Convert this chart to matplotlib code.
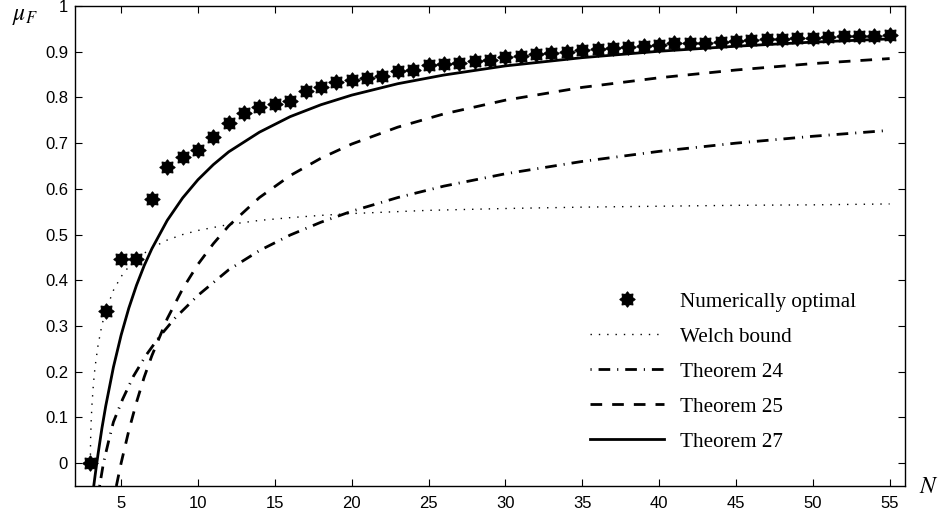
"""
Coherence of N lines in R^3: numerically optimal packings against
the Welch bound and the lower bounds of Theorems 24, 25 and 27.
"""

import numpy as np
import matplotlib
matplotlib.use("Agg")
import matplotlib.pyplot as plt
from matplotlib.path import Path

plt.rcParams["font.family"] = ["Liberation Sans", "DejaVu Sans"]
plt.rcParams["mathtext.fontset"] = "stix"

# Numerically optimal coherence, N = 3..55
n_opt = np.arange(3, 56)
mu_opt = [0.0, 0.333, 0.447, 0.447, 0.577, 0.647, 0.669, 0.685, 0.713, 0.743,
          0.766, 0.778, 0.785, 0.792, 0.814, 0.823, 0.834, 0.838, 0.843, 0.847,
          0.858, 0.861, 0.870, 0.873, 0.876, 0.880, 0.882, 0.888, 0.891, 0.895,
          0.898, 0.900, 0.903, 0.906, 0.909, 0.911, 0.913, 0.915, 0.918, 0.918,
          0.920, 0.922, 0.924, 0.925, 0.927, 0.927, 0.929, 0.931, 0.932, 0.934,
          0.935, 0.935, 0.937]

# Welch bound
n_welch = [3, 3.01, 3.02, 3.05, 3.1, 3.2, 3.3, 3.5, 3.75, 4, 4.5, 5, 5.5, 6,
           7, 8, 9, 10, 12, 14, 16, 18, 20, 25, 30, 35, 40, 45, 50, 55]
mu_welch = [0.0, 0.041, 0.057, 0.090, 0.126, 0.174, 0.209, 0.258, 0.302,
            0.333, 0.378, 0.408, 0.430, 0.447, 0.471, 0.488, 0.500, 0.509,
            0.522, 0.531, 0.537, 0.542, 0.546, 0.553, 0.557, 0.560, 0.562,
            0.564, 0.565, 0.567]

# Theorem 24
n_t24 = [3.6, 3.85, 4.2, 4.5, 5.1, 5.8, 6.6, 7.5, 8.5, 10, 12, 14, 16, 18,
         20, 23, 26, 30, 35, 40, 45, 50, 55]
mu_t24 = [-0.05, 0.0, 0.05, 0.09, 0.14, 0.19, 0.235, 0.277, 0.317, 0.367,
          0.423, 0.465, 0.499, 0.527, 0.551, 0.581, 0.606, 0.633, 0.660,
          0.682, 0.700, 0.715, 0.728]

# Theorem 25
n_t25 = [4.69, 5, 5.5, 6, 6.5, 7, 8, 9, 10, 11, 12, 14, 16, 18, 20, 23, 26,
         30, 35, 40, 45, 50, 55]
mu_t25 = [-0.05, 0.0, 0.071, 0.133, 0.188, 0.235, 0.316, 0.381, 0.435, 0.480,
          0.519, 0.581, 0.629, 0.667, 0.698, 0.735, 0.764, 0.794, 0.822,
          0.843, 0.860, 0.874, 0.885]

# Theorem 27
n_t27 = [3.2, 3.3, 3.4, 3.5, 3.75, 4, 4.5, 5, 5.5, 6, 6.5, 7, 8, 9, 10, 11,
         12, 14, 16, 18, 20, 23, 26, 30, 35, 40, 45, 50, 55]
mu_t27 = [-0.055, -0.029, -0.004, 0.020, 0.076, 0.125, 0.210, 0.280, 0.339,
          0.389, 0.432, 0.469, 0.531, 0.580, 0.620, 0.653, 0.681, 0.724,
          0.758, 0.784, 0.805, 0.830, 0.849, 0.869, 0.887, 0.901, 0.912,
          0.921, 0.928]

# heavy asterisk-like marker: 8 blunt spikes
star8 = Path.unit_regular_star(8, innerCircle=0.7)

fig = plt.figure(figsize=(9.41, 5.2), dpi=100)
ax = fig.add_axes([75 / 941, 1 - 486 / 520, 830 / 941, 480 / 520])

ax.plot(n_opt, mu_opt, linestyle="none", marker=star8, markersize=11,
        markeredgewidth=0.8, color="black", label="Numerically optimal")
ax.plot(n_welch, mu_welch, color="black", lw=1.0,
        linestyle=(0, (1.0, 5.0)), label="Welch bound")
ax.plot(n_t24, mu_t24, color="black", lw=2.0,
        linestyle=(0, (0.4, 2.5, 4.2, 2.5)), label="Theorem 24")
ax.plot(n_t25, mu_t25, color="black", lw=2.0,
        linestyle=(0, (4.2, 3.6)), label="Theorem 25")
ax.plot(n_t27, mu_t27, color="black", lw=2.0, label="Theorem 27")

ax.set_xlim(2, 56)
ax.set_ylim(-0.05, 1)
ax.set_xticks(range(5, 56, 5))
yt = np.round(np.arange(0, 1.01, 0.1), 1)
ax.set_yticks(yt)
ax.set_yticklabels(["0"] + [f"{v:.1f}" for v in yt[1:-1]] + ["1"])
ax.tick_params(direction="in", length=5, width=0.8, labelsize=12,
               top=True, right=True)
ax.tick_params(axis="x", pad=7)
ax.tick_params(axis="y", pad=5)
for sp in ax.spines.values():
    sp.set_linewidth(1.0)

fig.text(25 / 941, 1 - 16 / 520, r"$\mu_F$", fontsize=17,
         ha="center", va="center")
fig.text(929 / 941, 1 - 487 / 520, r"$N$", fontsize=17,
         ha="center", va="center")

ax.legend(loc="upper left", bbox_to_anchor=(590 / 941, 1 - 292 / 520),
          bbox_transform=fig.transFigure, frameon=False, borderpad=0,
          borderaxespad=0, handlelength=3.5, handletextpad=0.75,
          labelspacing=0.72, prop={"family": "Liberation Serif", "size": 15.2})

fig.savefig("out.png", dpi=100)
